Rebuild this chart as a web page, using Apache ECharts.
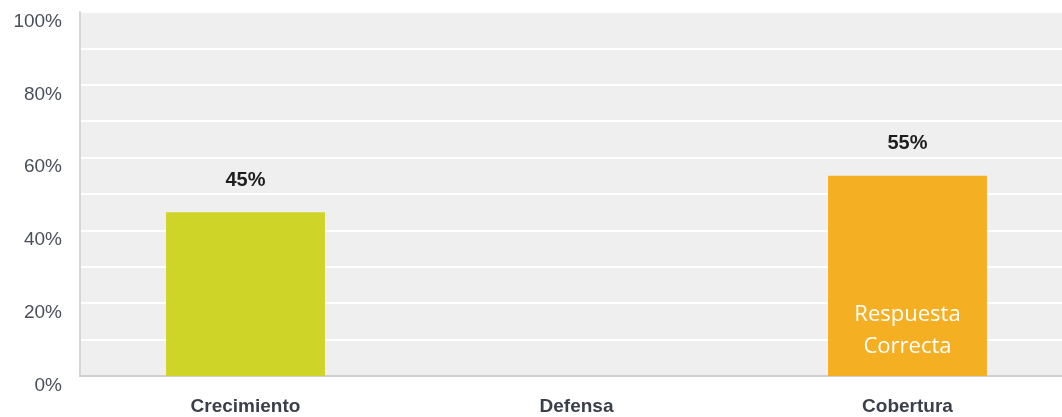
<!DOCTYPE html>
<html>
<head>
<meta charset="utf-8">
<style>
  html, body { margin: 0; padding: 0; background: #ffffff; overflow: hidden; }
  /* The plot runs a little past the right edge of the window */
  #chart { width: 1074px; height: 417px; }
</style>
<script src="https://cdn.jsdelivr.net/npm/echarts@6/dist/echarts.min.js"></script>
</head>
<body>
<div id="chart"></div>
<script>
// Share of answers per option (percent)
const categories = ['Crecimiento', 'Defensa', 'Cobertura'];
const values = [45, 0, 55];
const barColors = ['#CFD428', '#CFD428', '#F5AF22'];
// Note written inside the bar of the correct option
const notes = ['', '', 'Respuesta\nCorrecta'];
const yTicks = [0, 20, 40, 60, 80, 100];

const chart = echarts.init(document.getElementById('chart'), null, { renderer: 'canvas' });

const option = {
  backgroundColor: '#ffffff',
  animation: false,
  grid: {
    left: 80, top: 12, right: 1, bottom: 41,
    show: true, backgroundColor: '#efefef', borderWidth: 0
  },
  xAxis: {
    type: 'category',
    data: categories,
    axisLine: { show: true, lineStyle: { color: '#cfcfcf', width: 2 } },
    axisTick: { show: false },
    splitLine: { show: false },
    axisLabel: {
      margin: 21,
      color: '#3b3f4a',
      fontFamily: 'Liberation Sans, Arial, sans-serif',
      fontWeight: 'bold',
      fontSize: 19
    }
  },
  yAxis: {
    type: 'value',
    min: 0, max: 100, interval: 10,
    axisLine: { show: true, lineStyle: { color: '#d6d6d6', width: 2 } },
    axisTick: { show: false },
    splitLine: { show: true, lineStyle: { color: '#ffffff', width: 2 } },
    axisLabel: {
      margin: 18,
      verticalAlign: 'top',
      color: '#4a4f5a',
      fontFamily: 'Liberation Sans, Arial, sans-serif',
      fontSize: 19,
      formatter: v => yTicks.includes(v) ? v + '%' : ''
    }
  },
  series: [
    {
      type: 'bar',
      barWidth: '48%',
      data: values.map((v, i) => ({
        value: v,
        itemStyle: { color: barColors[i] },
        label: { show: v > 0 }
      })),
      label: {
        position: 'top',
        distance: 22,
        formatter: '{c}%',
        color: '#1e1e1e',
        fontFamily: 'Liberation Sans, Arial, sans-serif',
        fontWeight: 'bold',
        fontSize: 20
      }
    },
    {
      type: 'bar',
      barWidth: '48%',
      barGap: '-100%',
      silent: true,
      z: 3,
      data: values.map((v, i) => ({
        value: v,
        itemStyle: { color: 'rgba(0,0,0,0)' },
        label: { show: notes[i] !== '', formatter: notes[i] }
      })),
      label: {
        position: 'insideBottom',
        distance: 13,
        color: '#ffffff',
        fontFamily: 'Open Sans, sans-serif',
        fontSize: 22,
        lineHeight: 32
      }
    }
  ]
};

chart.setOption(option);
</script>
</body>
</html>
